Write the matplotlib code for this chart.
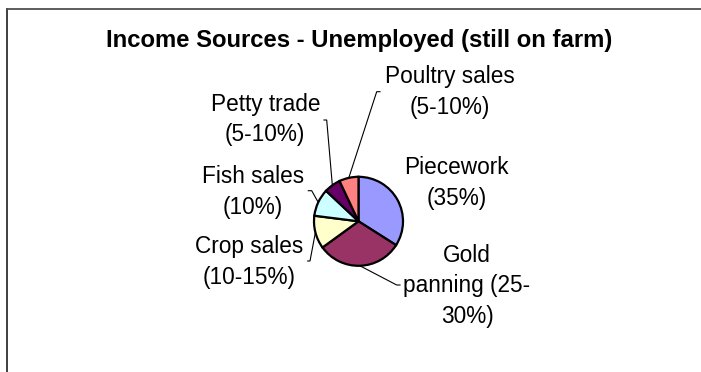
import numpy as np
import matplotlib
matplotlib.use("Agg")
import matplotlib.pyplot as plt

# Income shares for unemployed households still on the farm (approx. % of pie)
sources = ["Piecework", "Gold panning", "Crop sales", "Fish sales",
           "Petty trade", "Poultry sales"]
shares = [34, 31, 12, 10, 6, 7]
labels = ["Piecework\n(35%)", "Gold\npanning (25-\n30%)", "Crop sales\n(10-15%)",
          "Fish sales\n(10%)", "Petty trade\n(5-10%)", "Poultry sales\n(5-10%)"]
colors = ["#9999FF", "#993366", "#FFFFCC", "#CCFFFF", "#660066", "#FF8080"]

W, H = 701, 372
plt.rcParams['font.family'] = ['Liberation Sans', 'DejaVu Sans']

fig = plt.figure(figsize=(W / 100, H / 100), dpi=100)
ax = fig.add_axes([0, 0, 1, 1])

def yy(y):
    # pixel row (top-down) -> axes y (bottom-up)
    return H - y

cx, cy, r = 358.5, 221.3, 44.5
wedges, _ = ax.pie(shares, colors=colors, startangle=90, counterclock=False,
                   center=(cx, yy(cy)), radius=r,
                   wedgeprops=dict(edgecolor="black", linewidth=1.6))

# label block centres and leader elbows (pixels); None = no leader
label_pos = [(456.6, 183.3), (467.0, 285.9), (249.2, 261.7),
             (253.2, 191.7), (265.3, 119.5), (449.5, 91.7)]
elbows = [None, ((396.7, 285), (400, 285)), ((310, 261), (307.7, 261)),
          ((311.7, 190.7), (308.3, 190.7)), ((326.7, 120), (324, 120)),
          ((376.7, 91.7), (380, 91.7))]

for w, lab, (lx, ly), elb in zip(wedges, labels, label_pos, elbows):
    ax.text(lx, yy(ly), lab, ha="center", va="center", fontsize=16.3,
            linespacing=1.43, color="black")
    if elb is None:
        continue
    mid = np.deg2rad((w.theta1 + w.theta2) / 2)
    x0 = cx + r * np.cos(mid)
    y0 = yy(cy) + r * np.sin(mid)
    (ex, ey), (tx, ty) = elb
    ax.plot([x0, ex, tx], [y0, yy(ey), yy(ty)], color="black", lw=0.8,
            solid_joinstyle="miter")

ax.text(358.7, yy(40), "Income Sources - Unemployed (still on farm)",
        ha="center", va="center", fontsize=17.2, fontweight="bold")

# chart area border (left and top edges)
ax.plot([7.3, 7.3], [yy(H), yy(9.3)], color="#303030", lw=1.3)
ax.plot([7.3, W], [yy(9.3), yy(9.3)], color="#505050", lw=1.3)

ax.set_xlim(0, W)
ax.set_ylim(0, H)
ax.set_aspect("equal")
ax.axis("off")

fig.savefig("out.png", dpi=100, facecolor="white")
